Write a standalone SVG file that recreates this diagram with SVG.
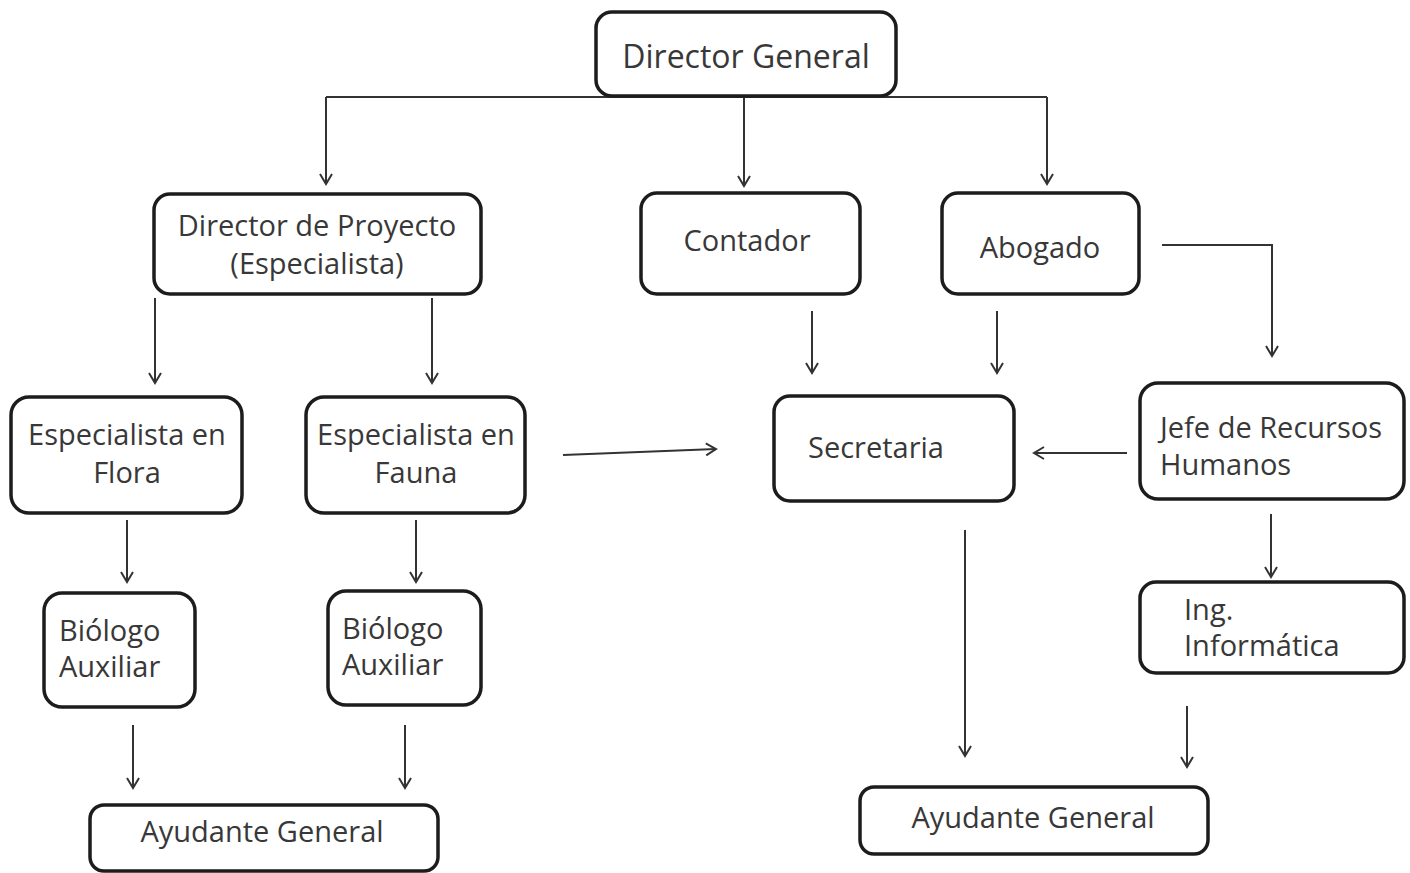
<svg xmlns="http://www.w3.org/2000/svg" width="1410" height="873" viewBox="0 0 1410 873">
<defs>
<style>
.box{fill:#fff;stroke:#1c1c1c;stroke-width:3.5}
.t{font-family:"Open Sans","Liberation Sans",sans-serif;font-size:29px;fill:#383838}
.c{text-anchor:middle}
.big{font-size:32px}
.ln{fill:none;stroke:#333;stroke-width:2;marker-end:url(#ah)}
.pl{fill:none;stroke:#333;stroke-width:2}
</style>
<marker id="ah" markerUnits="userSpaceOnUse" markerWidth="14" markerHeight="14" refX="11" refY="7" orient="auto" viewBox="0 0 14 14">
<path d="M1,1 L11,7 L1,13" fill="none" stroke="#333" stroke-width="2"/>
</marker>
</defs>
<rect width="1410" height="873" fill="#fff"/>
<g id="connectors">
<path class="pl" d="M326,97 H1047"/>
<path class="ln" d="M326,97 V184"/>
<path class="ln" d="M744,97 V186"/>
<path class="ln" d="M1047,97 V184"/>
<path class="ln" d="M155,298 V383"/>
<path class="ln" d="M432,298 V383"/>
<path class="ln" d="M812,311 V373"/>
<path class="ln" d="M997,311 V373"/>
<path class="ln" d="M1162,245 H1272 V356"/>
<path class="ln" d="M563,455 L716,449"/>
<path class="ln" d="M1127,453 H1034"/>
<path class="ln" d="M127,520 V582"/>
<path class="ln" d="M416,520 V582"/>
<path class="ln" d="M133,725 V788"/>
<path class="ln" d="M405,725 V788"/>
<path class="ln" d="M965,530 V756"/>
<path class="ln" d="M1271,514 V577"/>
<path class="ln" d="M1187,706 V767"/>
</g>
<g id="director-general"><rect class="box" x="596" y="12" width="300" height="84" rx="16"/><text class="t c big" x="746" y="68">Director General</text></g>
<g id="director-proyecto"><rect class="box" x="154" y="194" width="327" height="100" rx="16"/><text class="t c" x="317" y="236">Director de Proyecto</text><text class="t c" x="317" y="274">(Especialista)</text></g>
<g id="contador"><rect class="box" x="641" y="193" width="219" height="101" rx="16"/><text class="t c" x="747" y="251">Contador</text></g>
<g id="abogado"><rect class="box" x="942" y="193" width="197" height="101" rx="16"/><text class="t c" x="1040" y="258">Abogado</text></g>
<g id="esp-flora"><rect class="box" x="11" y="397" width="231" height="116" rx="18"/><text class="t c" x="127" y="445">Especialista en</text><text class="t c" x="127" y="483">Flora</text></g>
<g id="esp-fauna"><rect class="box" x="306" y="397" width="219" height="116" rx="18"/><text class="t c" x="416" y="445">Especialista en</text><text class="t c" x="416" y="483">Fauna</text></g>
<g id="secretaria"><rect class="box" x="774" y="396" width="240" height="105" rx="16"/><text class="t" x="808" y="458">Secretaria</text></g>
<g id="jefe-rrhh"><rect class="box" x="1140" y="383" width="264" height="116" rx="18"/><text class="t" x="1160" y="438">Jefe de Recursos</text><text class="t" x="1160" y="475">Humanos</text></g>
<g id="biologo-1"><rect class="box" x="44" y="593" width="151" height="114" rx="18"/><text class="t" x="59" y="641">Biólogo</text><text class="t" x="59" y="677">Auxiliar</text></g>
<g id="biologo-2"><rect class="box" x="328" y="591" width="153" height="114" rx="18"/><text class="t" x="342" y="639">Biólogo</text><text class="t" x="342" y="675">Auxiliar</text></g>
<g id="ing-informatica"><rect class="box" x="1140" y="582" width="264" height="91" rx="16"/><text class="t" x="1184" y="620">Ing.</text><text class="t" x="1184" y="656">Informática</text></g>
<g id="ayudante-1"><rect class="box" x="90" y="805" width="348" height="66" rx="14"/><text class="t c" x="262" y="842">Ayudante General</text></g>
<g id="ayudante-2"><rect class="box" x="860" y="787" width="348" height="67" rx="14"/><text class="t c" x="1033" y="828">Ayudante General</text></g>
</svg>
